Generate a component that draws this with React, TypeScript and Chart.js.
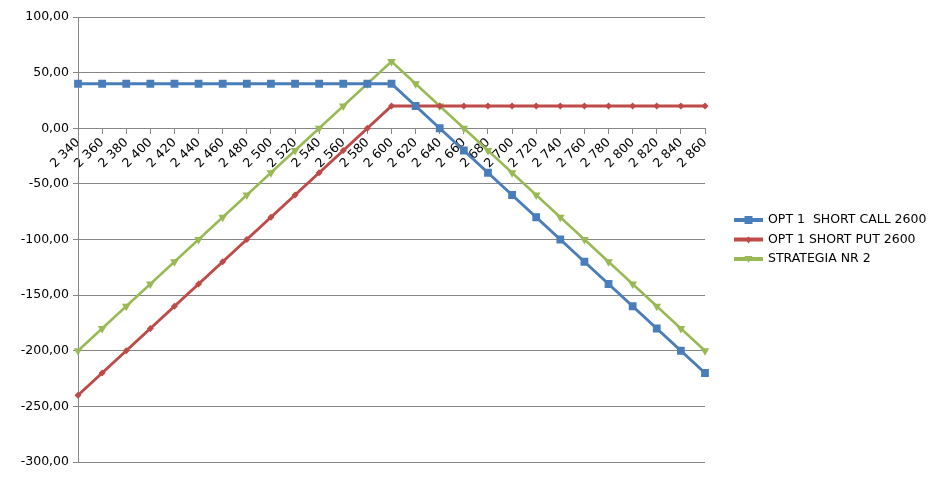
import React, { useEffect, useRef } from "react";
import { Chart, registerables } from "chart.js";

Chart.register(...registerables);

const categories = [
  "2 340", "2 360", "2 380", "2 400", "2 420", "2 440", "2 460", "2 480", "2 500",
  "2 520", "2 540", "2 560", "2 580", "2 600", "2 620", "2 640", "2 660", "2 680",
  "2 700", "2 720", "2 740", "2 760", "2 780", "2 800", "2 820", "2 840", "2 860",
];

const shortCall = [
  40, 40, 40, 40, 40, 40, 40, 40, 40, 40, 40, 40, 40, 40,
  20, 0, -20, -40, -60, -80, -100, -120, -140, -160, -180, -200, -220,
];

const shortPut = [
  -240, -220, -200, -180, -160, -140, -120, -100, -80, -60, -40, -20, 0, 20,
  20, 20, 20, 20, 20, 20, 20, 20, 20, 20, 20, 20, 20,
];

const strategy = [
  -200, -180, -160, -140, -120, -100, -80, -60, -40, -20, 0, 20, 40, 60,
  40, 20, 0, -20, -40, -60, -80, -100, -120, -140, -160, -180, -200,
];

const seriesNames = ["OPT 1  SHORT CALL 2600", "OPT 1 SHORT PUT 2600", "STRATEGIA NR 2"];

const BLUE = "#4A7EBB";
const RED = "#BE4B48";
const GREEN = "#98B954";
const FONT = "'DejaVu Sans', sans-serif";
const FSIZE = 12.5;

const legendPlugin = {
  id: "customLegend",
  afterDraw(chart: any) {
    const ctx = chart.ctx;
    const rows = [
      { name: seriesNames[0], color: BLUE, width: 4, marker: "rect", y: 220 },
      { name: seriesNames[1], color: RED, width: 4, marker: "rectRot", y: 239.5 },
      { name: seriesNames[2], color: GREEN, width: 4, marker: "tri", y: 259 },
    ];
    ctx.save();
    for (const r of rows) {
      ctx.strokeStyle = r.color;
      ctx.lineWidth = r.width;
      ctx.beginPath();
      ctx.moveTo(734, r.y);
      ctx.lineTo(763, r.y);
      ctx.stroke();
      ctx.fillStyle = r.color;
      const cx = 748.5;
      if (r.marker === "rect") {
        ctx.fillRect(cx - 4, r.y - 4, 8, 8);
      } else if (r.marker === "rectRot") {
        ctx.beginPath();
        ctx.moveTo(cx, r.y - 3);
        ctx.lineTo(cx + 3, r.y);
        ctx.lineTo(cx, r.y + 4);
        ctx.lineTo(cx - 3, r.y);
        ctx.closePath();
        ctx.fill();
      } else {
        ctx.beginPath();
        ctx.moveTo(cx - 4, r.y - 3);
        ctx.lineTo(cx + 4, r.y - 3);
        ctx.lineTo(cx, r.y + 4);
        ctx.closePath();
        ctx.fill();
      }
      ctx.fillStyle = "#000";
      ctx.font = `${FSIZE}px ${FONT}`;
      ctx.textBaseline = "middle";
      ctx.textAlign = "left";
      ctx.fillText(r.name, 768, r.y);
    }
    ctx.restore();
  },
};

export default function App() {
  const ref = useRef<HTMLCanvasElement>(null);

  useEffect(() => {
    if (!ref.current) return;
    const chart = new Chart(ref.current, {
      type: "line",
      data: {
        labels: categories,
        datasets: [
          {
            label: seriesNames[0],
            data: shortCall,
            borderColor: BLUE,
            backgroundColor: BLUE,
            borderWidth: 3,
            pointStyle: "rect",
            pointRadius: 5.5,
            pointBorderWidth: 0,
            tension: 0,
          },
          {
            label: seriesNames[1],
            data: shortPut,
            borderColor: RED,
            backgroundColor: RED,
            borderWidth: 3,
            pointStyle: "rectRot",
            pointRadius: 3.5,
            pointBorderWidth: 0,
            tension: 0,
          },
          {
            label: seriesNames[2],
            data: strategy,
            borderColor: GREEN,
            backgroundColor: GREEN,
            borderWidth: 2.5,
            pointStyle: "triangle",
            rotation: 180,
            pointRadius: 5,
            pointBorderWidth: 0,
            tension: 0,
          },
        ],
      },
      options: {
        responsive: false,
        animation: false,
        layout: { padding: { left: 8, top: 17, right: 235, bottom: 17 } },
        plugins: {
          legend: { display: false },
          tooltip: { enabled: false },
        },
        scales: {
          x: {
            type: "category",
            position: { y: 0 },
            offset: false,
            grid: {
              display: true,
              drawOnChartArea: false,
              drawTicks: true,
              tickLength: 5,
              color: "#868686",
            },
            border: { display: true, color: "#868686", width: 1 },
            ticks: {
              autoSkip: false,
              maxRotation: 45,
              minRotation: 45,
              color: "#000",
              font: { family: FONT, size: FSIZE },
              padding: 2,
            },
          },
          y: {
            min: -300,
            max: 100,
            afterFit(scale: any) {
              scale.width = 70;
            },
            grid: {
              color: "#868686",
              tickLength: 5,
              drawTicks: true,
            },
            border: { display: true, color: "#868686" },
            ticks: {
              stepSize: 50,
              color: "#000",
              font: { family: FONT, size: FSIZE },
              padding: 4,
              callback: (v: any) => Number(v).toFixed(2).replace(".", ","),
            },
          },
        },
      },
      plugins: [legendPlugin],
    });
    return () => chart.destroy();
  }, []);

  return (
    <div style={{ position: "absolute", left: 0, top: 0, width: 940, height: 479, background: "#fff" }}>
      <canvas ref={ref} width={940} height={479} />
    </div>
  );
}
